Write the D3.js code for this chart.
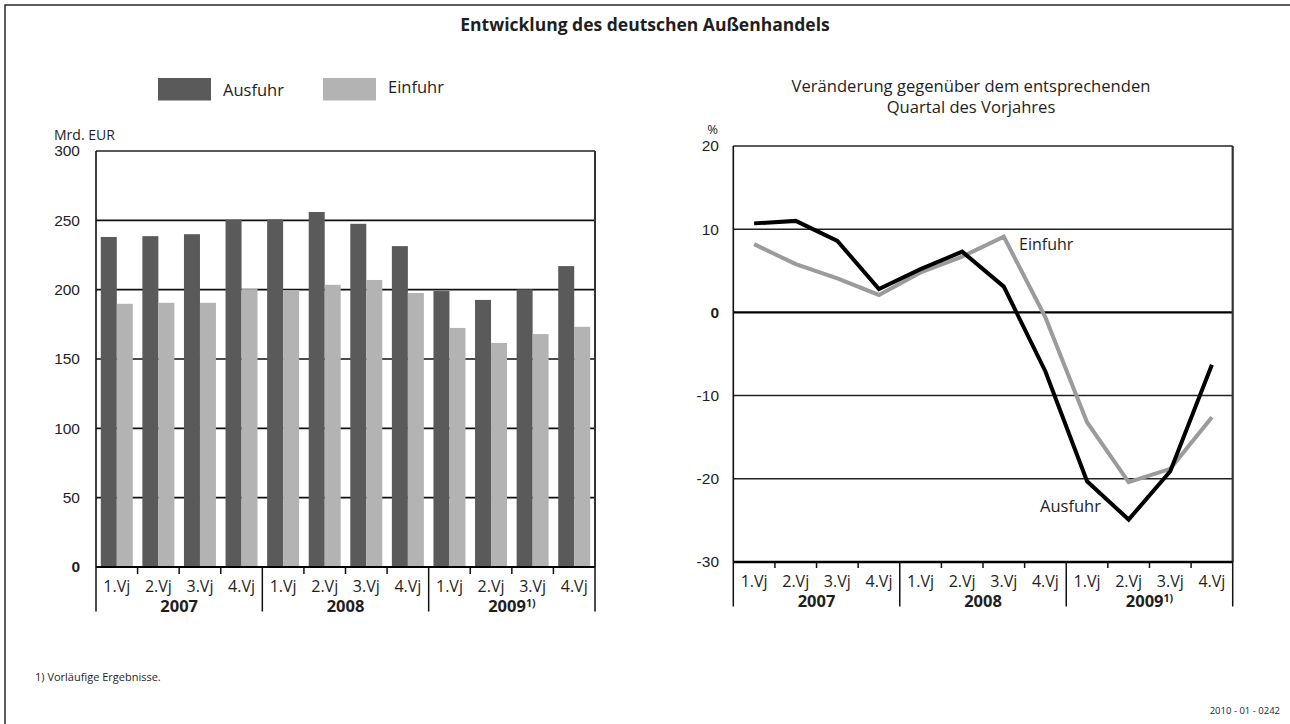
<!DOCTYPE html>
<html lang="de">
<head>
<meta charset="utf-8">
<script src="https://cdn.jsdelivr.net/npm/d3@7"></script>
<style>
  html, body { margin: 0; padding: 0; background: #fff; }
  svg { display: block; font-family: "Open Sans", "Noto Sans", sans-serif; }
  text { fill: #1e1e1e; }
</style>
</head>
<body>
<svg id="chart" width="1290" height="724"></svg>
<script>
// Quarters and years on the shared category axis
const quarters = ["1.Vj", "2.Vj", "3.Vj", "4.Vj"];
const years = ["2007", "2008", "2009"];
const yearNotes = ["", "", "1)"];

// Exports and imports, billion EUR per quarter
const ausfuhr = [238, 238.6, 240, 250.4, 250.6, 256, 247.5, 231.4, 199, 192.6, 200.2, 217];
const einfuhr = [189.8, 190.5, 190.5, 200.4, 199.7, 203.5, 207, 197.6, 172.4, 161.6, 168, 173.2];

// Change against the same quarter of the previous year, percent
const ausfuhrChange = [10.7, 11.0, 8.6, 2.8, 5.2, 7.3, 3.1, -7.1, -20.3, -24.9, -19.1, -6.3];
const einfuhrChange = [8.2, 5.8, 4.1, 2.1, 4.8, 6.7, 9.1, -0.6, -13.2, -20.4, -18.8, -12.6];

// Axis ticks
const barTicks = [0, 50, 100, 150, 200, 250, 300];
const changeTicks = [-30, -20, -10, 0, 10, 20];

const seriesNames = ["Ausfuhr", "Einfuhr"];
const barColors = { Ausfuhr: "#5a5a5a", Einfuhr: "#b3b3b3" };
const lineColors = { Ausfuhr: "#000000", Einfuhr: "#9b9b9b" };

const svg = d3.select("#chart");
const periods = d3.range(years.length * quarters.length);

// Outer frame (runs off the right and bottom edges)
svg.append("path")
  .attr("d", "M5,730 V5 H1300")
  .attr("fill", "none").attr("stroke", "#2a2a2a").attr("stroke-width", 1.5);

svg.append("text")
  .attr("x", 645).attr("y", 25).attr("dy", "0.35em")
  .attr("text-anchor", "middle")
  .attr("font-size", 17.5).attr("font-weight", "bold")
  .text("Entwicklung des deutschen Außenhandels");

// Legend for the bar chart
const legend = svg.append("g");
[{ x: 158, name: "Ausfuhr", ty: 90.5 }, { x: 323, name: "Einfuhr", ty: 87.5 }].forEach(d => {
  legend.append("rect").attr("x", d.x).attr("y", 78).attr("width", 53).attr("height", 22.5)
    .attr("fill", barColors[d.name]);
  legend.append("text").attr("x", d.x + 65).attr("y", d.ty).attr("dy", "0.35em")
    .attr("font-size", 16.5).text(d.name);
});

// Draws the two-level quarter / year axis below a plot
function categoryAxis(g, x, y0, labelY, yearY, sepBottom, tickLen) {
  periods.forEach(i => {
    const left = x(i);
    if (i > 0) {
      const isYear = i % quarters.length === 0;
      g.append("line")
        .attr("x1", left).attr("x2", left)
        .attr("y1", y0).attr("y2", isYear ? sepBottom : y0 + tickLen)
        .attr("stroke", "#111").attr("stroke-width", 1.5);
    }
    g.append("text")
      .attr("x", left + x.bandwidth() / 2).attr("y", labelY).attr("dy", "0.35em")
      .attr("text-anchor", "middle").attr("font-size", 16)
      .text(quarters[i % quarters.length]);
  });
  years.forEach((yr, k) => {
    const a = x(k * quarters.length);
    const b = x(k * quarters.length + quarters.length - 1) + x.bandwidth();
    const t = g.append("text")
      .attr("x", (a + b) / 2).attr("y", yearY).attr("dy", "0.35em")
      .attr("text-anchor", "middle").attr("font-size", 16.5).attr("font-weight", "bold");
    t.append("tspan").text(yr);
    if (yearNotes[k]) {
      t.append("tspan").attr("font-size", 10.5).attr("font-weight", "bold")
        .attr("dy", "-0.55em").text(yearNotes[k]);
    }
  });
  const [r0, r1] = x.range();
  [r0, r1].forEach(xx => g.append("line")
    .attr("x1", xx).attr("x2", xx).attr("y1", y0).attr("y2", sepBottom)
    .attr("stroke", "#111").attr("stroke-width", 1.5));
}

// ---------- Left: bar chart in billion EUR ----------
const xL = d3.scaleBand().domain(periods).range([96, 595]);
const xInner = d3.scaleBand().domain(seriesNames).range([0, xL.bandwidth()])
  .paddingInner(0).paddingOuter(0.3);
const yL = d3.scaleLinear().domain([0, 300]).range([567, 151]);

const left = svg.append("g");
left.append("text").attr("x", 54).attr("y", 135).attr("dy", "0.35em")
  .attr("font-size", 14).text("Mrd. EUR");

left.append("g").selectAll("line").data(barTicks.filter(t => t > 0 && t < 300)).join("line")
  .attr("x1", 96).attr("x2", 595)
  .attr("y1", d => yL(d)).attr("y2", d => yL(d))
  .attr("stroke", "#111").attr("stroke-width", 1.6);

seriesNames.forEach(name => {
  const vals = name === "Ausfuhr" ? ausfuhr : einfuhr;
  left.append("g").selectAll("rect").data(periods).join("rect")
    .attr("x", i => xL(i) + xInner(name))
    .attr("width", xInner.bandwidth())
    .attr("y", i => yL(vals[i]))
    .attr("height", i => yL(0) - yL(vals[i]))
    .attr("fill", barColors[name]);
});

// frame: top, left, right and the zero line
left.append("line").attr("x1", 96).attr("x2", 595).attr("y1", yL(300)).attr("y2", yL(300))
  .attr("stroke", "#222").attr("stroke-width", 1.6);
left.append("line").attr("x1", 96).attr("x2", 96).attr("y1", yL(300)).attr("y2", yL(0))
  .attr("stroke", "#111").attr("stroke-width", 1.6);
left.append("line").attr("x1", 595).attr("x2", 595).attr("y1", yL(300)).attr("y2", yL(0))
  .attr("stroke", "#333").attr("stroke-width", 2);
left.append("line").attr("x1", 96).attr("x2", 595).attr("y1", yL(0)).attr("y2", yL(0))
  .attr("stroke", "#000").attr("stroke-width", 2.2);

left.append("g").attr("transform", "translate(80,0)")
  .call(d3.axisLeft(yL).tickValues(barTicks).tickSize(0).tickPadding(0))
  .call(g => g.select(".domain").remove())
  .call(g => g.selectAll("text")
    .attr("font-size", 15.5).attr("font-family", null).attr("fill", "#1e1e1e")
    .attr("font-weight", d => d === 0 ? "bold" : null));

categoryAxis(left.append("g"), xL, yL(0), 586, 606.5, 611.5, 7);

// ---------- Right: year-on-year change in percent ----------
const xR = d3.scaleBand().domain(periods).range([733.3, 1232.7]);
const yR = d3.scaleLinear().domain([-30, 20]).range([562, 146]);
const right = svg.append("g");

right.append("text").attr("x", 971).attr("y", 86.5).attr("dy", "0.35em")
  .attr("text-anchor", "middle").attr("font-size", 16.6)
  .text("Veränderung gegenüber dem entsprechenden");
right.append("text").attr("x", 971).attr("y", 107.5).attr("dy", "0.35em")
  .attr("text-anchor", "middle").attr("font-size", 16.6)
  .text("Quartal des Vorjahres");
right.append("text").attr("x", 718).attr("y", 129.5).attr("dy", "0.35em")
  .attr("text-anchor", "end").attr("font-size", 13).text("%");

right.append("g").selectAll("line").data(changeTicks.filter(t => t !== 20 && t !== -30 && t !== 0)).join("line")
  .attr("x1", xR.range()[0]).attr("x2", xR.range()[1])
  .attr("y1", d => yR(d)).attr("y2", d => yR(d))
  .attr("stroke", "#222").attr("stroke-width", 1.5);
right.append("line").attr("x1", 733.3).attr("x2", 1232.7).attr("y1", yR(20)).attr("y2", yR(20))
  .attr("stroke", "#222").attr("stroke-width", 1.6);
right.append("line").attr("x1", 733.3).attr("x2", 1232.7).attr("y1", yR(0)).attr("y2", yR(0))
  .attr("stroke", "#000").attr("stroke-width", 2.4);
right.append("line").attr("x1", 733.3).attr("x2", 733.3).attr("y1", yR(20)).attr("y2", yR(-30))
  .attr("stroke", "#111").attr("stroke-width", 1.6);
right.append("line").attr("x1", 1232.7).attr("x2", 1232.7).attr("y1", yR(20)).attr("y2", yR(-30))
  .attr("stroke", "#333").attr("stroke-width", 2.2);
right.append("line").attr("x1", 733.3).attr("x2", 1232.7).attr("y1", yR(-30)).attr("y2", yR(-30))
  .attr("stroke", "#000").attr("stroke-width", 2.4);

right.append("g").attr("transform", "translate(719,0)")
  .call(d3.axisLeft(yR).tickValues(changeTicks).tickSize(0).tickPadding(0)
    .tickFormat(d => String(d)))
  .call(g => g.select(".domain").remove())
  .call(g => g.selectAll("text")
    .attr("font-size", 15.5).attr("font-family", null).attr("fill", "#1e1e1e")
    .attr("font-weight", d => d === 0 ? "bold" : null));

const line = d3.line()
  .x(i => xR(i) + xR.bandwidth() / 2)
  .curve(d3.curveLinear);

[["Einfuhr", einfuhrChange], ["Ausfuhr", ausfuhrChange]].forEach(([name, vals]) => {
  right.append("path")
    .datum(periods)
    .attr("d", line.y(i => yR(vals[i])))
    .attr("fill", "none")
    .attr("stroke", lineColors[name])
    .attr("stroke-width", 4)
    .attr("stroke-linejoin", "miter");
});

right.append("text").attr("x", 1019).attr("y", 244).attr("dy", "0.35em")
  .attr("font-size", 16).text("Einfuhr");
right.append("text").attr("x", 1040).attr("y", 506).attr("dy", "0.35em")
  .attr("font-size", 16.5).text("Ausfuhr");

categoryAxis(right.append("g"), xR, yR(-30), 581.5, 601.5, 606.5, 6);

// Footnote and document number
svg.append("text").attr("x", 35).attr("y", 677).attr("dy", "0.35em")
  .attr("font-size", 11).text("1) Vorläufige Ergebnisse.");
svg.append("text").attr("x", 1280).attr("y", 711).attr("dy", "0.35em")
  .attr("text-anchor", "end").attr("font-size", 9.5)
  .text("2010 - 01 - 0242");
</script>
</body>
</html>
